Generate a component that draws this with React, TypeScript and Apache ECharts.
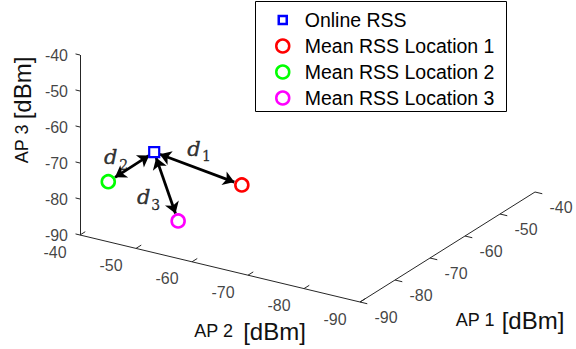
import React, { useEffect, useRef } from "react";
import * as echarts from "echarts";

// ---------------- data ----------------
const SERIES_NAMES = ["Online RSS", "Mean RSS Location 1", "Mean RSS Location 2", "Mean RSS Location 3"];
// [AP1, AP2, AP3] in dBm
const ONLINE_RSS = [-80, -47, -70.5];
const LOC1_RSS = [-70, -56.4, -82.2];
const LOC2_RSS = [-88, -43.8, -75];
const LOC3_RSS = [-85, -54.4, -83.8];
const AP1_TICKS = [-90, -80, -70, -60, -50, -40];
const AP2_TICKS = [-40, -50, -60, -70, -80, -90];
const AP3_TICKS = [-40, -50, -60, -70, -80, -90];
const DIST_SUBS = ["1", "2", "3"];
const AXIS_MIN = -90;
const AXIS_MAX = -40;

// ---------------- layout / style ----------------
const W = 576;
const H = 349;
const COLORS = ["#0000ff", "#ff0000", "#00ff00", "#ff00ff"];
const ORIGIN = [360, 302]; // projected (-90,-90,-90)
const E1 = [3.5, -2.2]; // per dB of AP1
const E2 = [-5.6, -1.34]; // per dB of AP2
const E3 = [0, -3.6]; // per dB of AP3
const AXIS_COLOR = "#262626";
const FONT = "Liberation Sans";
const MATH_FONT = "DejaVu Serif";
const SQUARE_ICON = "path://M0,0h0.01M13,13h-0.01M2.5,2.5h8v8h-8z";
const LEGEND_BOX = { x: 255.5, y: 1.5, width: 251, height: 110 };

function proj(p: number[]): number[] {
  const u = p[0] - AXIS_MIN;
  const v = p[1] - AXIS_MIN;
  const w = p[2] - AXIS_MIN;
  return [
    ORIGIN[0] + E1[0] * u + E2[0] * v + E3[0] * w,
    ORIGIN[1] + E1[1] * u + E2[1] * v + E3[1] * w,
  ];
}

function shorten(a: number[], b: number[], da: number, db: number): number[][] {
  const dx = b[0] - a[0];
  const dy = b[1] - a[1];
  const len = Math.sqrt(dx * dx + dy * dy);
  const ux = dx / len;
  const uy = dy / len;
  return [
    [a[0] + ux * da, a[1] + uy * da],
    [b[0] - ux * db, b[1] - uy * db],
  ];
}

function buildOption() {
  const points = [ONLINE_RSS, LOC1_RSS, LOC2_RSS, LOC3_RSS];
  const locs = [LOC1_RSS, LOC2_RSS, LOC3_RSS];
  const pOnline = proj(ONLINE_RSS);

  // axis lines
  const axisSegs: number[][][] = [
    [proj([AXIS_MIN, AXIS_MAX, AXIS_MIN]), proj([AXIS_MIN, AXIS_MAX, AXIS_MAX])],
    [proj([AXIS_MIN, AXIS_MAX, AXIS_MIN]), proj([AXIS_MIN, AXIS_MIN, AXIS_MIN])],
    [proj([AXIS_MIN, AXIS_MIN, AXIS_MIN]), proj([AXIS_MAX, AXIS_MIN, AXIS_MIN])],
  ];
  AP3_TICKS.forEach((t) => axisSegs.push([proj([AXIS_MIN, AXIS_MAX, t]), proj([AXIS_MIN, AXIS_MAX + 0.8, t])]));
  AP2_TICKS.forEach((t) => axisSegs.push([proj([AXIS_MIN, t, AXIS_MIN]), proj([AXIS_MIN + 1.5, t, AXIS_MIN])]));
  AP1_TICKS.forEach((t) => axisSegs.push([proj([t, AXIS_MIN, AXIS_MIN]), proj([t, AXIS_MIN - 1.3, AXIS_MIN])]));

  const tickLabelStyle = { fontFamily: FONT, fontSize: 16, color: "#111" };
  const tickLabels: any[] = [];
  AP3_TICKS.forEach((t) =>
    tickLabels.push({ name: String(t), value: proj([AXIS_MIN, AXIS_MAX, t]), label: { align: "right", offset: [-12, 0] } })
  );
  AP2_TICKS.forEach((t) =>
    tickLabels.push({ name: String(t), value: proj([AXIS_MIN, t, AXIS_MIN]), label: { align: "center", offset: [-25, 17] } })
  );
  AP1_TICKS.forEach((t) =>
    tickLabels.push({ name: String(t), value: proj([t, AXIS_MIN, AXIS_MIN]), label: { align: "center", offset: [26, 15] } })
  );

  const arrows = locs.map((l) => ({ coords: shorten(pOnline, proj(l), 6, 8) }));

  const dOffsets = [[-4, -19.5], [-20.5, -9.5], [-22.5, 10.4]];
  const subOffsets = [[8.5, -13], [-7.5, -2], [-10.5, 18.4]];
  const distLabels: any[] = [];
  locs.forEach((l, i) => {
    const q = proj(l);
    const mid = [(pOnline[0] + q[0]) / 2, (pOnline[1] + q[1]) / 2];
    distLabels.push({ name: "d", value: mid, label: { offset: dOffsets[i] } });
    distLabels.push({ name: DIST_SUBS[i], value: mid, label: { offset: subOffsets[i] } });
  });

  const markerSeries = points.map((p, i) => ({
    name: SERIES_NAMES[i],
    type: "scatter",
    symbol: i === 0 ? "rect" : "circle",
    symbolSize: i === 0 ? 10 : 13,
    z: 5,
    silent: true,
    itemStyle: { color: "rgba(0,0,0,0)", borderColor: COLORS[i], borderWidth: i === 0 ? 2.2 : 2.6, opacity: 1 },
    data: [proj(p)],
  }));

  return {
    animation: false,
    grid: { left: 0, right: 0, top: 0, bottom: 0 },
    xAxis: { type: "value", min: 0, max: W, show: false },
    yAxis: { type: "value", min: 0, max: H, inverse: true, show: false },
    legend: {
      left: 255,
      top: 1,
      orient: "vertical",
      itemWidth: 34,
      itemHeight: 13,
      itemGap: 0,
      padding: [6, 10, 0, 20],
      borderWidth: 0,
      selectedMode: false,
      textStyle: { fontFamily: FONT, fontSize: 19.5, color: "#000", lineHeight: 26 },
      data: SERIES_NAMES.map((n, i) => ({
        name: n,
        icon: i === 0 ? SQUARE_ICON : "circle",
        itemStyle: { color: "rgba(0,0,0,0)", borderColor: COLORS[i], borderWidth: 2.5 },
      })),
    },
    graphic: [
      {
        type: "rect",
        z: 0,
        shape: LEGEND_BOX,
        style: { fill: "none", stroke: "#000", lineWidth: 1 },
      },
      {
        type: "text",
        x: 22,
        y: 110,
        rotation: Math.PI / 2,
        style: {
          text: "{a|AP 3}{b|[dBm]}",
          align: "center",
          verticalAlign: "middle",
          fill: "#111",
          rich: {
            a: { fontFamily: FONT, fontSize: 18, fill: "#111" },
            b: { fontFamily: FONT, fontSize: 24, fill: "#111", padding: [0, 0, 0, 5] },
          },
        },
      },
      {
        type: "text",
        x: 250,
        y: 331,
        style: {
          text: "{a|AP 2}{b|[dBm]}",
          align: "center",
          verticalAlign: "middle",
          fill: "#111",
          rich: {
            a: { fontFamily: FONT, fontSize: 18, fill: "#111" },
            b: { fontFamily: FONT, fontSize: 24, fill: "#111", padding: [0, 0, 0, 10] },
          },
        },
      },
      {
        type: "text",
        x: 510,
        y: 320,
        style: {
          text: "{a|AP 1}{b|[dBm]}",
          align: "center",
          verticalAlign: "middle",
          fill: "#111",
          rich: {
            a: { fontFamily: FONT, fontSize: 18, fill: "#111" },
            b: { fontFamily: FONT, fontSize: 24, fill: "#111", padding: [0, 0, 0, 7] },
          },
        },
      },
    ],
    series: [
      {
        type: "lines",
        coordinateSystem: "cartesian2d",
        silent: true,
        z: 1,
        lineStyle: { color: AXIS_COLOR, width: 1, opacity: 1 },
        data: axisSegs.map((c) => ({ coords: c })),
      },
      {
        type: "lines",
        coordinateSystem: "cartesian2d",
        silent: true,
        z: 3,
        symbol: ["arrow", "arrow"],
        symbolSize: 11,
        lineStyle: { color: "#000", width: 2.8, opacity: 1 },
        data: arrows,
      },
      {
        type: "scatter",
        silent: true,
        symbolSize: 1,
        z: 2,
        itemStyle: { color: "rgba(0,0,0,0)" },
        label: { show: true, position: "inside", formatter: "{b}", ...tickLabelStyle, verticalAlign: "middle" },
        data: tickLabels,
      },
      {
        type: "scatter",
        silent: true,
        symbolSize: 1,
        z: 4,
        itemStyle: { color: "rgba(0,0,0,0)" },
        label: {
          show: true,
          position: "inside",
          align: "center",
          verticalAlign: "middle",
          formatter: (p: any) => (p.name === "d" ? "{d|d}" : "{s|" + p.name + "}"),
          rich: {
            d: {
              fontFamily: MATH_FONT,
              fontStyle: "italic",
              fontSize: 21,
              color: "#000",
              textBorderColor: "#000",
              textBorderWidth: 0.4,
            },
            s: { fontFamily: MATH_FONT, fontSize: 14, color: "#000", textBorderColor: "#000", textBorderWidth: 0.3 },
          },
        },
        data: distLabels,
      },
      ...markerSeries,
    ],
  };
}

export default function App() {
  const ref = useRef<HTMLDivElement>(null);
  useEffect(() => {
    document.body.style.margin = "0";
    if (!ref.current) return;
    const chart = echarts.init(ref.current, undefined, { renderer: "svg" });
    chart.setOption(buildOption() as any);
    return () => chart.dispose();
  }, []);
  return <div ref={ref} style={{ width: W, height: H, background: "#fff" }} />;
}
